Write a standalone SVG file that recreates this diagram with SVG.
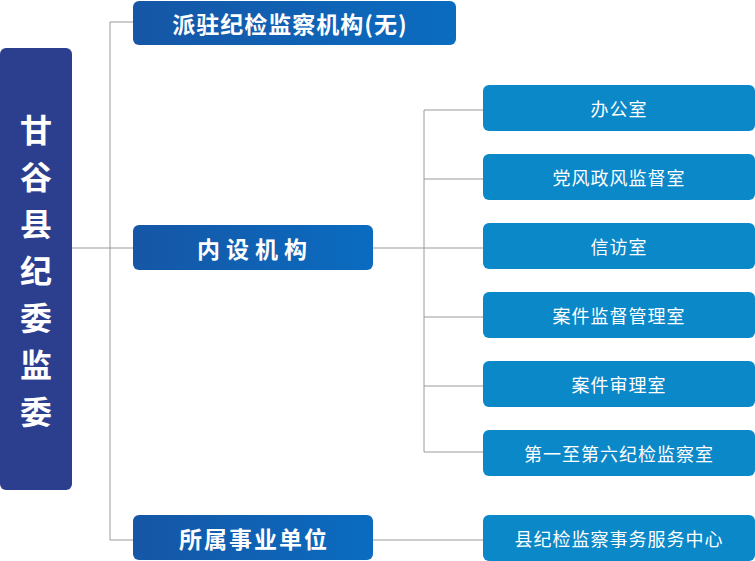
<svg xmlns="http://www.w3.org/2000/svg" width="755" height="561" viewBox="0 0 755 561">
<style>
.ln{stroke:#9a9a9a;stroke-width:1;fill:none}
.mid{fill:url(#g)}
.sub{fill:#0a88c8}
.t1{font-family:"Noto Sans CJK SC","Noto Sans",sans-serif;font-weight:bold;fill:#fff;font-size:23px;text-anchor:middle;dominant-baseline:central}
.t2{font-family:"Noto Sans CJK SC","Noto Sans",sans-serif;fill:#fff;font-size:18px;text-anchor:middle;dominant-baseline:central;letter-spacing:1px}
.tl{font-family:"Noto Sans CJK SC","Noto Sans",sans-serif;font-weight:bold;fill:#fff;font-size:32px;text-anchor:middle;dominant-baseline:central}
</style>
<defs><linearGradient id="g" x1="0" y1="0" x2="1" y2="0"><stop offset="0" stop-color="#1656a6"/><stop offset="1" stop-color="#0a6cc0"/></linearGradient></defs>
<g id="connectors">
<path class="ln" d="M72 248H110M110 22V540M110 22H133M110 248H133M110 540H133M373 248H424M424 110V452M424 110H483M424 179H483M424 248H483M424 317H483M424 386H483M424 452H483M373 540H483"/>
</g>
<g id="root"><rect x="0" y="48" width="72" height="442" rx="6" fill="#2c3e8e"/>
<text class="tl" x="36" y="128">甘</text><text class="tl" x="36" y="175">谷</text><text class="tl" x="36" y="222">县</text><text class="tl" x="36" y="269">纪</text><text class="tl" x="36" y="316">委</text><text class="tl" x="36" y="363">监</text><text class="tl" x="36" y="410">委</text></g>
<g id="n1"><rect class="mid" x="133" y="1" width="323" height="44" rx="6"/><text class="t1" x="290" y="23" style="letter-spacing:1px">派驻纪检监察机构(无)</text></g>
<g id="n2"><rect class="mid" x="133" y="225" width="240" height="45" rx="6"/><text class="t1" x="255" y="248" style="letter-spacing:6px">内设机构</text></g>
<g id="n3"><rect class="mid" x="133" y="515" width="240" height="45" rx="6"/><text class="t1" x="254" y="538" style="letter-spacing:2px">所属事业单位</text></g>
<g id="s1"><rect class="sub" x="483" y="85" width="272" height="46" rx="6"/><text class="t2" x="619" y="108">办公室</text></g>
<g id="s2"><rect class="sub" x="483" y="154" width="272" height="46" rx="6"/><text class="t2" x="619" y="177">党风政风监督室</text></g>
<g id="s3"><rect class="sub" x="483" y="223" width="272" height="46" rx="6"/><text class="t2" x="619" y="246">信访室</text></g>
<g id="s4"><rect class="sub" x="483" y="292" width="272" height="46" rx="6"/><text class="t2" x="619" y="315">案件监督管理室</text></g>
<g id="s5"><rect class="sub" x="483" y="361" width="272" height="46" rx="6"/><text class="t2" x="619" y="384">案件审理室</text></g>
<g id="s6"><rect class="sub" x="483" y="430" width="272" height="46" rx="6"/><text class="t2" x="619" y="453">第一至第六纪检监察室</text></g>
<g id="s7"><rect class="sub" x="483" y="515" width="272" height="46" rx="6"/><text class="t2" x="619" y="538">县纪检监察事务服务中心</text></g>
</svg>
